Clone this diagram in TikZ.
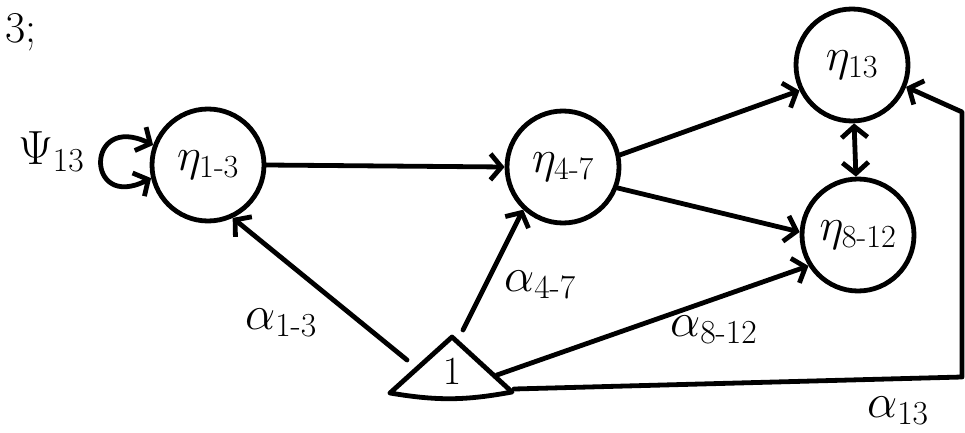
\RequirePackage{fix-cm}
\documentclass[tikz,border=0pt]{standalone}
\usepackage{amsmath}
\usetikzlibrary{arrows.meta}
\begin{document}
\begin{tikzpicture}[x=1pt,y=-1pt,
  line width=4.8pt, line cap=round, line join=round,
  >={Straight Barb[length=11pt,width=26pt]},
  latent/.style={circle, draw, minimum size=112pt, inner sep=0pt, font=\fontsize{46}{50}\selectfont},
  lab/.style={font=\fontsize{48}{52}\selectfont, inner sep=0pt}]
\clip (0,0) rectangle (965,433);
\fill[white] (0,0) rectangle (965,433);
% title fragment
\node[lab, anchor=west, font=\fontsize{44}{48}\selectfont] (ttl) at (3,32) {3;};
% latent variables
\node[latent] (n1) at (208,165) {$\eta_{1\text{-}3}$};
\node[latent] (n4) at (563,167) {$\eta_{4\text{-}7}$};
\node[latent] (n13) at (852,65) {$\eta_{13}$};
\node[latent] (n8) at (858,235) {$\eta_{8\text{-}12}$};
% constant triangle
\coordinate (tA) at (452,337);
\coordinate (tL) at (390,393);
\coordinate (tR) at (512,392);
\draw (tL) -- (tA) -- (tR) to[bend left=10] (tL);
\node[lab, font=\fontsize{40}{44}\selectfont] (tri) at (452,372) {$1$};
\coordinate (s1) at (407,360);
\coordinate (s4) at (463,330);
\coordinate (s8) at (497,375);
\coordinate (s13) at (514,389);
\coordinate (k1) at (962,377);
\coordinate (k2) at (962,112);
% self loop
\node[lab, anchor=west] (psi) at (16,152) {$\Psi_{13}$};
\draw[<->] (n1.160) .. controls (85,112) and (85,212) .. (n1.193);
% paths
\draw[->] (n1.east) -- (n4.west);
\draw[->] (n4.12) -- (n13.206);
\draw[->] (n4.-21) -- (n8.177);
\draw[<->] (n13) -- (n8);
\draw[->] (s1) -- (n1.-65);
\draw[->] (s4) -- (n4.-133);
\draw[->] (s8) -- (n8.-148);
\draw[->] (s13) -- (k1) -- (k2) -- (n13.-22);
% labels
\node[lab, anchor=west] (a1) at (243,323) {$\alpha_{1\text{-}3}$};
\node[lab, anchor=west] (a4) at (502,285) {$\alpha_{4\text{-}7}$};
\node[lab, anchor=west] (a8) at (668,330) {$\alpha_{8\text{-}12}$};
\node[lab, anchor=west] (a13) at (865,411) {$\alpha_{13}$};
\end{tikzpicture}
\end{document}
